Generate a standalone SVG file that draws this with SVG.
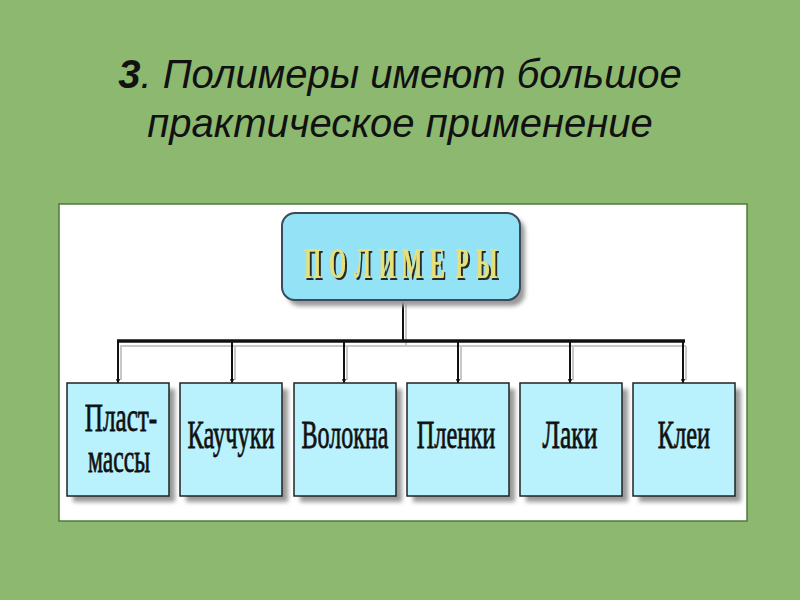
<svg xmlns="http://www.w3.org/2000/svg" width="800" height="600" viewBox="0 0 800 600">
<defs>
<filter id="blur" x="-10%" y="-10%" width="130%" height="130%"><feGaussianBlur stdDeviation="2"/></filter>
<filter id="tshadow" x="-10%" y="-20%" width="130%" height="150%">
<feOffset in="SourceAlpha" dx="2" dy="2" result="o"/>
<feFlood flood-color="#2a2a2a"/>
<feComposite in2="o" operator="in" result="s"/>
<feMerge><feMergeNode in="s"/><feMergeNode in="SourceGraphic"/></feMerge>
</filter>
<marker id="arr" viewBox="0 0 10 10" refX="9" refY="5" markerWidth="5" markerHeight="5" orient="auto" markerUnits="userSpaceOnUse">
<path d="M0,0 L10,5 L0,10 L3,5 Z" fill="#111"/>
</marker>
<style>
.title{font-family:"Liberation Sans",Arial,sans-serif;font-style:italic;font-size:40px;fill:#111;text-anchor:middle}
.box{fill:#b9f1fd;stroke:#222;stroke-width:1.5}
.shadow{fill:#9a9a9a;filter:url(#blur)}
.lbl{font-family:"Liberation Serif","DejaVu Serif",serif;font-size:40px;fill:#111;text-anchor:middle;stroke:#111;stroke-width:0.8}
.conn{stroke:#111;stroke-width:2;fill:none}
.bar{stroke:#111;stroke-width:3.5;fill:none}
.ghost{stroke:#c8c8c8;stroke-width:2;fill:none}
</style>
</defs>
<rect width="800" height="600" fill="#8cb96f"/>
<text class="title" x="400" y="88"><tspan font-weight="bold">3</tspan>. Полимеры имеют большое</text>
<text class="title" x="400" y="137">практическое применение</text>
<rect x="59" y="204" width="688" height="317" fill="#fff" stroke="#4f7a3a" stroke-width="1.5"/>

<g id="connectors">
<path class="ghost" d="M406,303 V345 M120,346 H686 M121,346 V380 M235,346 V380 M347,346 V380 M461,346 V380 M573,346 V380 M686,346 V380"/>
<path class="conn" d="M403,300 V341"/>
<path class="bar" d="M117,341 H685"/>
<path class="conn" marker-end="url(#arr)" d="M118,341 V383"/>
<path class="conn" marker-end="url(#arr)" d="M232,341 V383"/>
<path class="conn" marker-end="url(#arr)" d="M344,341 V383"/>
<path class="conn" marker-end="url(#arr)" d="M458,341 V383"/>
<path class="conn" marker-end="url(#arr)" d="M570,341 V383"/>
<path class="conn" marker-end="url(#arr)" d="M683,341 V383"/>
</g>

<g id="polimery">
<rect class="shadow" x="287" y="218" width="238" height="88" rx="13"/>
<rect x="282" y="213" width="238" height="87" rx="13" fill="#93e2f5" stroke="#3a4a5a" stroke-width="2"/>
<g filter="url(#tshadow)">
<text transform="translate(0,278) scale(0.5,1)" x="625 675 725 774 824 874 924 973" y="0" font-family="Liberation Serif,serif" font-weight="bold" font-size="44" text-anchor="middle" fill="#e6e07a">ПОЛИМЕРЫ</text>
</g>
</g>

<g id="plastmassy">
<rect class="shadow" x="73" y="389" width="102" height="113"/>
<rect class="box" x="67" y="383" width="102" height="113"/>
<text class="lbl" transform="translate(121,431) scale(0.63,1)">Пласт-</text>
<text class="lbl" transform="translate(119,472) scale(0.59,1)">массы</text>
</g>
<g id="kauchuki">
<rect class="shadow" x="186" y="389" width="102" height="113"/>
<rect class="box" x="180" y="383" width="102" height="113"/>
<text class="lbl" transform="translate(231,448) scale(0.61,1)">Каучуки</text>
</g>
<g id="volokna">
<rect class="shadow" x="300" y="389" width="102" height="113"/>
<rect class="box" x="294" y="383" width="102" height="113"/>
<text class="lbl" transform="translate(345,448) scale(0.6,1)">Волокна</text>
</g>
<g id="plenki">
<rect class="shadow" x="413" y="389" width="102" height="113"/>
<rect class="box" x="407" y="383" width="102" height="113"/>
<text class="lbl" transform="translate(456,448) scale(0.61,1)">Пленки</text>
</g>
<g id="laki">
<rect class="shadow" x="526" y="389" width="102" height="113"/>
<rect class="box" x="520" y="383" width="102" height="113"/>
<text class="lbl" transform="translate(570,448) scale(0.64,1)">Лаки</text>
</g>
<g id="klei">
<rect class="shadow" x="639" y="389" width="102" height="113"/>
<rect class="box" x="633" y="383" width="102" height="113"/>
<text class="lbl" transform="translate(684,448) scale(0.61,1)">Клеи</text>
</g>
</svg>
